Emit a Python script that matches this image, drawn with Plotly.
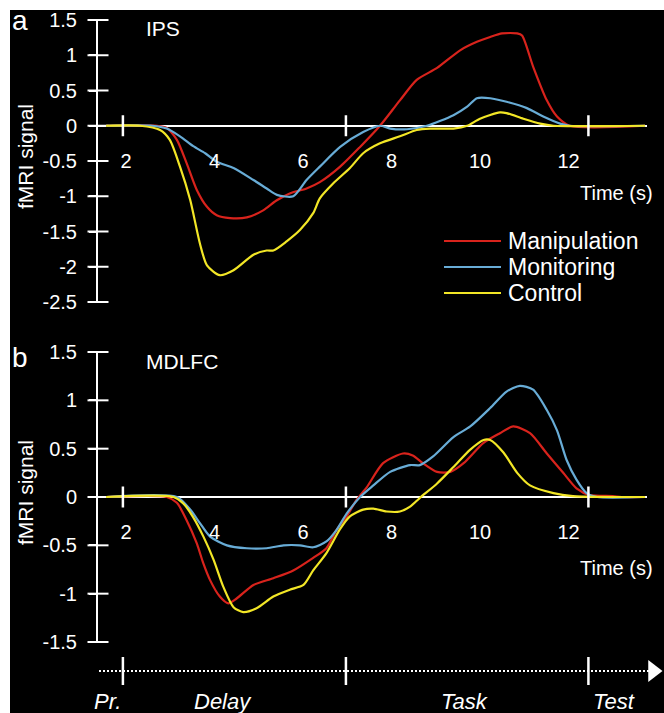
import plotly.graph_objects as go

# ---------------- data ----------------
series_names = ["Manipulation", "Monitoring", "Control"]
series_colors = ["#d8231c", "#68acd6", "#f2e626"]

# Panel a (IPS)
ips_manip_t = [1.55, 2.7, 2.92, 3.15, 3.37, 3.6, 3.83, 4.05, 4.35, 4.73, 5.1, 5.4, 5.7, 6.08, 6.38, 6.84,
               7.29, 7.74, 8.19, 8.57, 9.03, 9.55, 9.93, 10.23, 10.5, 10.84, 10.95, 11.2, 11.51, 11.74, 12.03, 13.73]
ips_manip_v = [0, 0, -0.03, -0.2, -0.53, -0.91, -1.15, -1.27, -1.31, -1.30, -1.2, -1.06, -0.96, -0.89, -0.8, -0.58,
               -0.3, 0.0, 0.36, 0.65, 0.82, 1.07, 1.19, 1.26, 1.31, 1.31, 1.28, 0.84, 0.36, 0.13, 0, 0]

ips_monit_t = [1.55, 2.6, 2.92, 3.22, 3.52, 3.79, 4.05, 4.43, 4.88, 5.18, 5.41, 5.78, 6.08, 6.38, 6.84, 7.36,
               7.74, 7.97, 8.35, 8.8, 9.4, 9.71, 9.93, 10.23, 10.6, 11.06, 11.43, 11.81, 12.03, 13.73]
ips_monit_v = [0, 0, -0.04, -0.15, -0.29, -0.39, -0.51, -0.6, -0.77, -0.89, -0.98, -1.0, -0.77, -0.58, -0.3, -0.09,
               0, -0.04, -0.05, 0, 0.15, 0.27, 0.39, 0.39, 0.34, 0.25, 0.13, 0.03, 0, 0]

ips_ctrl_t = [1.55, 2.32, 2.77, 2.99, 3.22, 3.45, 3.67, 3.83, 4.12, 4.43, 4.88, 5.18, 5.33, 5.63, 5.93, 6.23,
              6.38, 6.68, 7.06, 7.36, 7.74, 8.19, 8.57, 8.87, 9.4, 9.71, 10.0, 10.45, 10.6, 10.98, 11.36, 11.66, 13.73]
ips_ctrl_v = [0, 0, -0.06, -0.2, -0.58, -1.05, -1.67, -1.98, -2.12, -2.05, -1.83, -1.77, -1.77, -1.64, -1.48, -1.24,
              -1.03, -0.82, -0.6, -0.39, -0.25, -0.15, -0.06, -0.04, -0.04, 0, 0.1, 0.19, 0.18, 0.1, 0.03, 0, 0]

# Panel b (MDLFC)
mdl_manip_t = [1.55, 2.92, 3.15, 3.37, 3.6, 3.75, 3.9, 4.12, 4.31, 4.5, 4.88, 5.33, 5.78, 6.23, 6.53, 6.76,
               6.99, 7.21, 7.44, 7.81, 8.26, 8.48, 8.71, 9.03, 9.33, 9.63, 10.08, 10.45, 10.75, 11.13, 11.51,
               11.88, 12.18, 12.48, 13.0, 13.2, 13.73]
mdl_manip_v = [0, 0, -0.06, -0.24, -0.48, -0.69, -0.86, -1.03, -1.1, -1.05, -0.91, -0.84, -0.76, -0.63, -0.53, -0.34,
               -0.2, -0.03, 0.1, 0.35, 0.45, 0.43, 0.35, 0.26, 0.26, 0.35, 0.56, 0.66, 0.73, 0.66, 0.45,
               0.25, 0.09, 0.02, 0.01, 0, 0]

mdl_monit_t = [1.55, 3.15, 3.45, 3.67, 3.9, 4.28, 4.73, 5.18, 5.56, 5.93, 6.23, 6.53, 6.76, 6.99, 7.29, 7.59,
               7.97, 8.42, 8.64, 8.94, 9.4, 9.78, 10.23, 10.6, 10.9, 11.2, 11.51, 11.74, 11.96, 12.18, 12.41, 12.65, 13.73]
mdl_monit_v = [0, 0, -0.13, -0.27, -0.41, -0.5, -0.53, -0.53, -0.5, -0.5, -0.52, -0.46, -0.34, -0.17, 0, 0.12,
               0.26, 0.33, 0.33, 0.42, 0.62, 0.73, 0.92, 1.09, 1.15, 1.11, 0.9, 0.69, 0.38, 0.18, 0.04, 0, 0]

mdl_ctrl_t = [1.55, 3.07, 3.3, 3.52, 3.75, 3.98, 4.2, 4.43, 4.65, 4.95, 5.33, 5.7, 6.01, 6.23, 6.53, 6.84,
              7.06, 7.36, 7.59, 7.89, 8.19, 8.42, 8.64, 9.03, 9.4, 9.78, 10.08, 10.23, 10.53, 10.84, 11.13,
              11.66, 12.1, 13.73]
mdl_ctrl_v = [0, 0, -0.07, -0.21, -0.41, -0.65, -0.93, -1.14, -1.19, -1.15, -1.03, -0.96, -0.91, -0.76, -0.58, -0.33,
              -0.2, -0.13, -0.12, -0.15, -0.15, -0.1, -0.01, 0.14, 0.31, 0.49, 0.59, 0.59, 0.46, 0.25, 0.12,
              0.04, 0.01, 0]

panel_letters = ["a", "b"]
panel_titles = ["IPS", "MDLFC"]

x_tick_vals = [2, 4, 6, 8, 10, 12]
x_tick_text = ["2", "4", "6", "8", "10", "12"]
y_ticks_a = [1.5, 1, 0.5, 0, -0.5, -1, -1.5, -2, -2.5]
y_ticks_a_text = ["1.5", "1", "0.5", "0", "-0.5", "-1", "-1.5", "-2", "-2.5"]
y_ticks_b = [1.5, 1, 0.5, 0, -0.5, -1, -1.5]
y_ticks_b_text = ["1.5", "1", "0.5", "0", "-0.5", "-1", "-1.5"]

phase_marks = [1.93, 6.97, 12.45]
phase_labels = ["Pr.", "Delay", "Task", "Test"]
phase_label_t = [1.59, 4.2, 9.64, 13.02]

# ---------------- layout helpers ----------------
W, H = 664, 713
T0_PX, PX_PER_S = 37.5, 44.25   # pixel mapping of the time axis


def px_to_t(px):
    return (px - T0_PX) / PX_PER_S


def fx(pix):   # x pixel -> paper fraction
    return pix / W


def fy(pix):   # y pixel -> paper fraction
    return 1 - pix / H


FONT = "Liberation Sans, Arial, sans-serif"
WHITE = "white"

fig = go.Figure()

panels = [
    ("x", "y", [(ips_manip_t, ips_manip_v), (ips_monit_t, ips_monit_v), (ips_ctrl_t, ips_ctrl_v)], y_ticks_a),
    ("x2", "y2", [(mdl_manip_t, mdl_manip_v), (mdl_monit_t, mdl_monit_v), (mdl_ctrl_t, mdl_ctrl_v)], y_ticks_b),
]

AX_L, AX_R = 98, 647
x_left_t = px_to_t(AX_L)
x_right_t = px_to_t(AX_R)

for xa, ya, data, yt in panels:
    # y-axis cross ticks (inner half)
    fig.add_trace(go.Scatter(x=[x_left_t] * len(yt), y=yt, xaxis=xa, yaxis=ya, mode="markers",
                             marker=dict(symbol="line-ew", size=15, line=dict(width=2, color=WHITE)),
                             cliponaxis=False, showlegend=False, hoverinfo="skip"))
    for (t, v), name, col in zip(data, series_names, series_colors):
        fig.add_trace(go.Scatter(x=t, y=v, xaxis=xa, yaxis=ya, mode="lines", name=name,
                                 line=dict(color=col, width=2.2, shape="spline", smoothing=0.7),
                                 showlegend=False))
    fig.add_trace(go.Scatter(x=phase_marks, y=[0] * len(phase_marks), xaxis=xa, yaxis=ya, mode="markers",
                             marker=dict(symbol="line-ns", size=15, line=dict(width=2.5, color=WHITE)),
                             cliponaxis=False, showlegend=False, hoverinfo="skip"))

# timeline
tl_start, tl_end = px_to_t(99), px_to_t(650)
fig.add_trace(go.Scatter(x=[tl_start, tl_end], y=[0, 0], xaxis="x3", yaxis="y3", mode="lines",
                         line=dict(color=WHITE, width=2, dash="2px,2px"), showlegend=False, hoverinfo="skip"))
fig.add_trace(go.Scatter(x=phase_marks, y=[0] * len(phase_marks), xaxis="x3", yaxis="y3", mode="markers",
                         marker=dict(symbol="line-ns", size=20, line=dict(width=2.5, color=WHITE)),
                         cliponaxis=False, showlegend=False, hoverinfo="skip"))
fig.add_trace(go.Scatter(x=[px_to_t(653)], y=[0], xaxis="x3", yaxis="y3", mode="markers",
                         marker=dict(symbol="triangle-right", size=19, color=WHITE),
                         cliponaxis=False, showlegend=False, hoverinfo="skip"))

tickfont = dict(family=FONT, size=20, color=WHITE)


def xaxis_cfg(zero_pix):
    return dict(domain=[fx(AX_L), fx(AX_R)], range=[x_left_t, x_right_t], anchor="free", position=fy(zero_pix),
                showline=False, ticks="", tickvals=x_tick_vals, ticktext=x_tick_text,
                tickfont=dict(family=FONT, size=20, color=WHITE), ticklabelstandoff=21,
                showgrid=False, zeroline=False, automargin=False)


def yaxis_cfg(anchor, dom, rng, vals, text):
    return dict(domain=dom, range=rng, anchor=anchor, showline=True, linecolor=WHITE, linewidth=2,
                ticks="outside", ticklen=7, tickwidth=2, tickcolor=WHITE, tickvals=vals, ticktext=text,
                tickfont=tickfont, ticklabelstandoff=8, showgrid=False, automargin=False,
                zeroline=True, zerolinecolor=WHITE, zerolinewidth=2)


annotations = []
for letter, title, ly, ty in zip(panel_letters, panel_titles, [20, 357], [28, 361]):
    annotations.append(dict(text=letter, x=fx(20), y=fy(ly), xref="paper", yref="paper", showarrow=False,
                            xanchor="center", yanchor="middle", font=dict(family=FONT, size=28, color=WHITE)))
    annotations.append(dict(text=title, x=fx(144), y=fy(ty), xref="paper", yref="paper", showarrow=False,
                            xanchor="left", yanchor="middle", font=dict(family=FONT, size=21, color=WHITE)))
for yc in [157, 493]:
    annotations.append(dict(text="fMRI signal", x=fx(25), y=fy(yc), xref="paper", yref="paper",
                            showarrow=False, textangle=-90, xanchor="center", yanchor="middle",
                            font=dict(family=FONT, size=21, color=WHITE)))
for yc in [193, 568]:
    annotations.append(dict(text="Time (s)", x=fx(655), y=fy(yc), xref="paper", yref="paper",
                            showarrow=False, xanchor="right", yanchor="middle",
                            font=dict(family=FONT, size=20, color=WHITE)))
for lab, t in zip(phase_labels, phase_label_t):
    annotations.append(dict(text="<i>%s</i>" % lab, x=t, y=fy(701), xref="x3", yref="paper",
                            showarrow=False, xanchor="center", yanchor="middle",
                            font=dict(family=FONT, size=22, color=WHITE)))

# manual legend
shapes = [dict(type="rect", xref="paper", yref="paper", x0=fx(10), x1=1, y0=0, y1=fy(10),
               fillcolor="black", line=dict(width=0), layer="below")]
for i, (name, col) in enumerate(zip(series_names, series_colors)):
    yc = 241 + 26 * i
    shapes.append(dict(type="line", xref="paper", yref="paper", x0=fx(444), x1=fx(501), y0=fy(yc), y1=fy(yc),
                       line=dict(color=col, width=2.2)))
    annotations.append(dict(text=name, x=fx(506), y=fy(yc), xref="paper", yref="paper", showarrow=False,
                            xanchor="left", yanchor="middle", font=dict(family=FONT, size=23, color=WHITE)))

fig.update_layout(
    width=W, height=H, margin=dict(l=0, r=0, t=0, b=0, pad=0, autoexpand=False),
    paper_bgcolor="white", plot_bgcolor="rgba(0,0,0,0)",
    showlegend=False,
    xaxis=xaxis_cfg(125.75),
    yaxis=yaxis_cfg("x", [fy(302), fy(20)], [-2.5, 1.5], y_ticks_a, y_ticks_a_text),
    xaxis2=xaxis_cfg(497),
    yaxis2=yaxis_cfg("x2", [fy(642), fy(352)], [-1.5, 1.5], y_ticks_b, y_ticks_b_text),
    xaxis3=dict(domain=[0, 1], range=[px_to_t(0), px_to_t(W)], anchor="y3", visible=False, automargin=False),
    yaxis3=dict(domain=[fy(691), fy(651)], range=[-1, 1], anchor="x3", visible=False, automargin=False),
    annotations=annotations,
    shapes=shapes,
)

# remove the default 8px page margin so the figure fills the window exactly
fig.write_html("out.html", config={"displayModeBar": False},
               post_script="document.body.style.margin='0px';")
